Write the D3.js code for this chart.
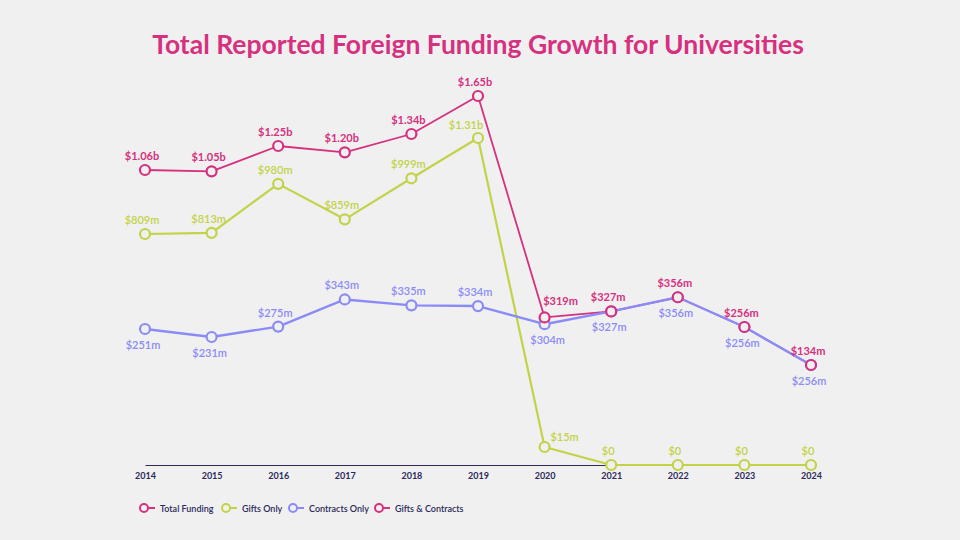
<!DOCTYPE html>
<html><head><meta charset="utf-8">
<script src="https://cdn.jsdelivr.net/npm/d3@7"></script>
<style>
html,body{margin:0;padding:0;background:#f0f0f0;}
svg{display:block;font-family:Lato, "Open Sans", sans-serif;}
</style></head>
<body><svg id="c" width="960" height="540"></svg>
<script>
// ---- data ----
const years = [2014,2015,2016,2017,2018,2019,2020,2021,2022,2023,2024];
const totalValues = [1060,1050,1250,1200,1340,1650,319,327,356,256,134];
const totalLabels = ["$1.06b","$1.05b","$1.25b","$1.20b","$1.34b","$1.65b","$319m","$327m","$356m","$256m","$134m"];
const giftsValues = [809,813,980,859,999,1310,15,0,0,0,0];
const giftsLabels = ["$809m","$813m","$980m","$859m","$999m","$1.31b","$15m","$0","$0","$0","$0"];
const contractsValues = [251,231,275,343,335,334,304,327,356,256,134];
const contractsLabels = ["$251m","$231m","$275m","$343m","$335m","$334m","$304m","$327m","$356m","$256m","$256m"];
const legendNames = ["Total Funding","Gifts Only","Contracts Only","Gifts & Contracts"];
const titleText = "Total Reported Foreign Funding Growth for Universities";

// ---- layout / style (not data) ----
const C = {pink:"#d6307f", gift:"#c3d246", contract:"#8b8bf7", navy:"#2b2a5a", bg:"#f0f0f0"};
const legendColors = [C.pink, C.gift, C.contract, C.pink];
const contractSide = [1,1,-1,-1,-1,-1,1,1,1,1,1]; // 1 below, -1 above

const svg = d3.select("#c");
svg.append("rect").attr("width",960).attr("height",540).attr("fill",C.bg);

const x = d3.scalePoint().domain(years).range([145,811]);
// the original's vertical placement is not proportional; approximate with a piecewise scale
const y = d3.scaleLinear()
  .domain([0,15,134,231,256,300,320,330,345,360,809,1000,1060,1250,1340,1650])
  .range([465,447,365,337,327,326,317,309,298,297,234,178,170,146,134,96]);

svg.append("text").attr("x",478).attr("y",54).attr("text-anchor","middle")
  .attr("fill",C.pink).attr("font-size",26.5).attr("font-weight",700).text(titleText);

// axis
const xAxis = d3.axisBottom(x).tickSize(0).tickPadding(8);
const ax = svg.append("g").attr("transform","translate(0,465)").call(xAxis);
ax.select(".domain").attr("stroke",C.navy).attr("stroke-width",1.2);
ax.selectAll("text").attr("fill",C.navy).attr("font-size",9).attr("font-weight",700)
  .attr("font-family","Lato, sans-serif");

const line = d3.line().x((d,i)=>x(years[i])).y(d=>y(d));
function drawLine(vals,color,w){
  svg.append("path").datum(vals).attr("d",line).attr("fill","none")
    .attr("stroke",color).attr("stroke-width",w).attr("stroke-linejoin","round");
}
function drawDots(vals,color){
  svg.append("g").selectAll("circle").data(vals).join("circle")
    .attr("cx",(d,i)=>x(years[i])).attr("cy",d=>y(d)).attr("r",5)
    .attr("fill",C.bg).attr("stroke",color).attr("stroke-width",2.2);
}
drawLine(totalValues,C.pink,1.8);
drawLine(giftsValues,C.gift,2.2);
drawLine(contractsValues,C.contract,2.4);
drawDots(giftsValues,C.gift);
drawDots(contractsValues,C.contract);
drawDots(totalValues,C.pink);

function labels(vals,texts,color,weight,fx){
  svg.append("g").selectAll("text").data(vals).join("text")
    .attr("x",(d,i)=>x(years[i])+fx(i).dx).attr("y",(d,i)=>y(d)+fx(i).dy)
    .attr("text-anchor","middle").attr("fill",color).attr("font-size",11)
    .attr("font-weight",weight).text((d,i)=>texts[i]);
}
labels(totalValues,totalLabels,C.pink,700,i=>{
  if(i===6) return {dx:16,dy:-12};
  return {dx:-3,dy:-10};
});
labels(giftsValues,giftsLabels,C.gift,600,i=>{
  if(i===6) return {dx:20,dy:-6};
  if(i===5) return {dx:-12,dy:-9};
  return {dx:-3,dy:-10};
});
labels(contractsValues,contractsLabels,C.contract,600,i=>{
  if(contractSide[i]===1) return {dx:(i===6?3:-2),dy:20};
  return {dx:-3,dy:-10};
});

// legend
const lx = [144,226,293,379];
const lg = svg.append("g").selectAll("g").data(legendNames).join("g")
  .attr("transform",(d,i)=>`translate(${lx[i]},508)`);
lg.append("line").attr("x1",0).attr("x2",11).attr("stroke",(d,i)=>legendColors[i]).attr("stroke-width",2);
lg.append("circle").attr("r",4).attr("fill",C.bg).attr("stroke",(d,i)=>legendColors[i]).attr("stroke-width",2);
lg.append("text").attr("x",16).attr("y",3.5).attr("fill",C.navy).attr("font-size",9)
  .attr("font-weight",600).text(d=>d);
</script></body></html>
